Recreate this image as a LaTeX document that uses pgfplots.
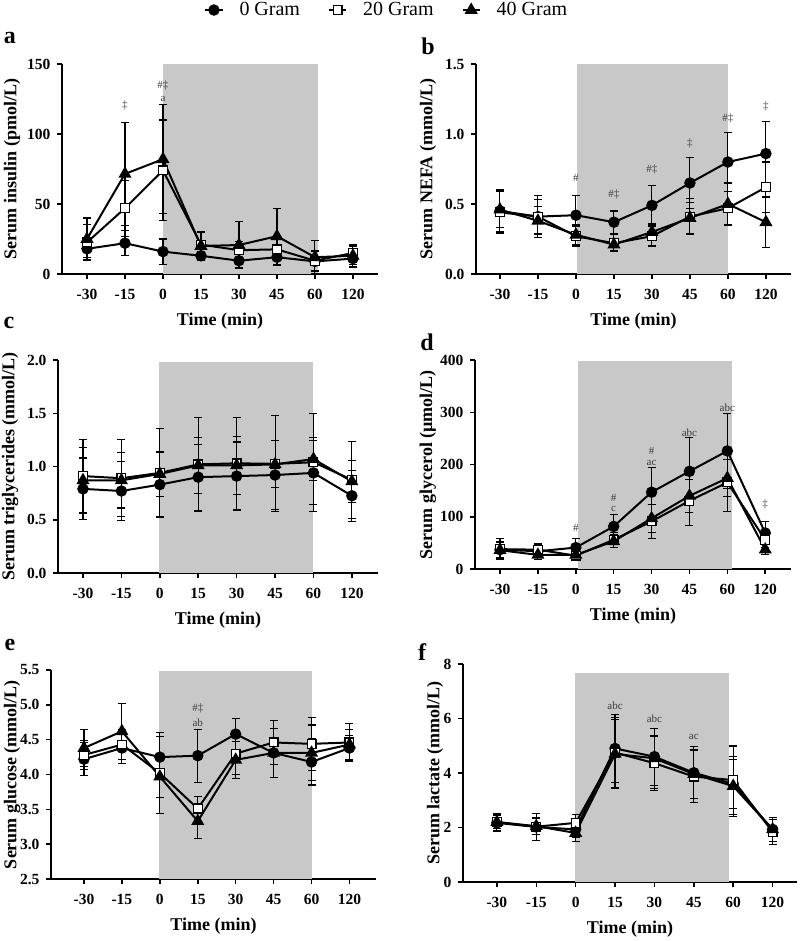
\documentclass[border=0pt]{standalone}
\usepackage{fontspec}
\setmainfont{Liberation Serif}
\usepackage{pgfplots}
\pgfplotsset{compat=1.18}
\definecolor{shade}{RGB}{200,200,200}
\definecolor{annot}{RGB}{60,60,60}
\pgfplotsset{
  panel/.style={
    scale only axis,
    anchor=south west,
    axis lines*=left,
    axis line style={line width=1.7pt, black},
    xtick={0,1,2,3,4,5,6,7},
    xticklabels={-30,-15,0,15,30,45,60,120},
    tick style={line width=1.5pt, black},
    major tick length=5pt,
    tick align=outside,
    tick label style={font=\fontsize{15.5}{18}\selectfont\bfseries},
    xticklabel style={yshift=-7pt},
    yticklabel style={xshift=-3pt},
    /pgf/number format/assume math mode=true,
    xlabel={Time (min)},
    xlabel style={font=\fontsize{18}{21}\selectfont\bfseries, at={(rel axis cs:0.5,0)}, anchor=center, yshift=-47pt},
    ylabel style={font=\fontsize{18}{21}\selectfont\bfseries, anchor=center},
    clip=false,
    ymin=0,
    error bars/y dir=both,
    error bars/y explicit,
    error bars/error bar style={line width=1.1pt, black},
    error bars/error mark options={rotate=90, mark size=4pt, line width=1.1pt, black},
  },
  sA/.style={black, line width=2pt, mark=*, mark size=4.7pt, mark options={solid, fill=black}},
  sB/.style={black, line width=2pt, mark=square*, mark size=4.4pt, mark options={solid, fill=white, line width=1.2pt}},
  sC/.style={black, line width=2pt, mark=triangle*, mark size=5.6pt, mark options={solid, fill=black}},
  shd/.style={fill=shade, draw=none, forget plot, mark=none, error bars/y dir=none},
}
\newcommand{\ann}[3]{\node[font=\fontsize{11}{12}\selectfont, text=annot, inner sep=0pt] at (axis cs:#1,#2) {#3};}
\begin{document}
\begin{tikzpicture}
\path[use as bounding box] (0pt,0pt) rectangle (800pt,-941pt);

% ---------------- a ----------------
\begin{axis}[panel, at={(62pt,-274pt)}, width=316pt, height=210pt,
  xmin=-0.658, xmax=7.66, ymax=150, ytick={0,50,100,150},
  ylabel={Serum insulin (pmol/L)}, ylabel style={at={(axis description cs:-0.158,0.5)}},
  legend columns=3,
  legend style={at={(1.028,1.257)}, anchor=center, draw=none, fill=none,
    font=\fontsize{20}{24}\selectfont,
    /tikz/every odd column/.append style={column sep=14pt},
    /tikz/every even column/.append style={column sep=26pt}},
  legend cell align=left]
\addplot[shd] coordinates {(2,0) (6.08,0) (6.08,150) (2,150)} -- cycle;
\addplot[sA] coordinates {(0,18)+-(0,6) (1,22)+-(0,9) (2,16)+-(0,9) (3,13)+-(0,3) (4,9.5)+-(0,5) (5,12)+-(0,6) (6,9)+-(0,7) (7,11)+-(0,4)};
\addplot[sB] coordinates {(0,22.6)+-(0,13) (1,47)+-(0,20) (2,74)+-(0,36) (3,21)+-(0,9) (4,17)+-(0,6) (5,17.6)+-(0,8) (6,9.5)+-(0,7) (7,15)+-(0,5)};
\addplot[sC] coordinates {(0,25)+-(0,15) (1,71.5)+-(0,37) (2,82)+-(0,39) (3,20)+-(0,10) (4,20.7)+-(0,17) (5,27)+-(0,20) (6,12)+-(0,12) (7,13)+-(0,8)};
\legend{0 Gram, 20 Gram, 40 Gram}
\ann{1}{120.7}{‡}
\ann{2}{135}{\#‡}
\ann{2}{125}{a}
\end{axis}
\node[font=\fontsize{24}{28}\selectfont\bfseries] at (10pt,-38pt) {a};

% ---------------- b ----------------
\begin{axis}[panel, at={(476pt,-274pt)}, width=315pt, height=210pt,
  xmin=-0.63, xmax=7.66, ymax=1.5, ytick={0,0.5,1,1.5},
  yticklabel style={/pgf/number format/.cd, fixed, fixed zerofill, precision=1},
  ylabel={Serum NEFA (mmol/L)}, ylabel style={at={(axis description cs:-0.152,0.5)}}]
\addplot[shd] coordinates {(2.02,0) (6.0,0) (6.0,1.5) (2.02,1.5)} -- cycle;
\addplot[sA] coordinates {(0,0.45)+-(0,0.15) (1,0.41)+-(0,0.15) (2,0.42)+-(0,0.14) (3,0.37)+-(0,0.08) (4,0.49)+-(0,0.14) (5,0.65)+-(0,0.18) (6,0.80)+-(0,0.21) (7,0.86)+-(0,0.23)};
\addplot[sB] coordinates {(0,0.44)+-(0,0.15) (1,0.41)+-(0,0.12) (2,0.27)+-(0,0.07) (3,0.22)+-(0,0.06) (4,0.27)+-(0,0.07) (5,0.41)+-(0,0.13) (6,0.47)+-(0,0.12) (7,0.62)+-(0,0.18)};
\addplot[sC] coordinates {(0,0.46)+-(0,0.13) (1,0.38)+-(0,0.10) (2,0.28)+-(0,0.07) (3,0.21)+-(0,0.04) (4,0.30)+-(0,0.06) (5,0.40)+-(0,0.11) (6,0.50)+-(0,0.15) (7,0.37)+-(0,0.18)};
\ann{2}{0.69}{\#}
\ann{3}{0.57}{\#‡}
\ann{4}{0.75}{\#‡}
\ann{5}{0.93}{‡}
\ann{6}{1.11}{\#‡}
\ann{7}{1.20}{‡}
\end{axis}
\node[font=\fontsize{24}{28}\selectfont\bfseries] at (428pt,-46pt) {b};

% ---------------- c ----------------
\begin{axis}[panel, at={(58pt,-573pt)}, width=320pt, height=213pt,
  xmin=-0.65, xmax=7.68, ymax=2, ytick={0,0.5,1,1.5,2},
  yticklabel style={/pgf/number format/.cd, fixed, fixed zerofill, precision=1},
  ylabel={Serum triglycerides (mmol/L)}, ylabel style={at={(axis description cs:-0.15,0.5)}}]
\addplot[shd] coordinates {(1.98,0) (6.0,0) (6.0,1.98) (1.98,1.98)} -- cycle;
\addplot[sA] coordinates {(0,0.79)+-(0,0.29) (1,0.77)+-(0,0.28) (2,0.83)+-(0,0.30) (3,0.90)+-(0,0.31) (4,0.91)+-(0,0.32) (5,0.92)+-(0,0.32) (6,0.94)+-(0,0.30) (7,0.725)+-(0,0.24)};
\addplot[sB] coordinates {(0,0.91)+-(0,0.34) (1,0.89)+-(0,0.36) (2,0.94)+-(0,0.42) (3,1.02)+-(0,0.44) (4,1.03)+-(0,0.43) (5,1.025)+-(0,0.45) (6,1.04)+-(0,0.46) (7,0.875)+-(0,0.36)};
\addplot[sC] coordinates {(0,0.87)+-(0,0.31) (1,0.87)+-(0,0.26) (2,0.93)+-(0,0.21) (3,1.01)+-(0,0.26) (4,1.01)+-(0,0.27) (5,1.02)+-(0,0.22) (6,1.07)+-(0,0.20) (7,0.86)+-(0,0.20)};
\end{axis}
\node[font=\fontsize{24}{28}\selectfont\bfseries] at (9pt,-323pt) {c};

% ---------------- d ----------------
\begin{axis}[panel, at={(475pt,-569pt)}, width=316pt, height=209pt,
  xmin=-0.66, xmax=7.68, ymax=400, ytick={0,100,200,300,400},
  ylabel={Serum glycerol (µmol/L)}, ylabel style={at={(axis description cs:-0.149,0.5)}}]
\addplot[shd] coordinates {(2.05,0) (6.13,0) (6.13,398) (2.05,398)} -- cycle;
\addplot[sA] coordinates {(0,37)+-(0,15) (1,34)+-(0,12) (2,41)+-(0,18) (3,81.5)+-(0,22) (4,147)+-(0,47) (5,187)+-(0,64) (6,226)+-(0,72) (7,69)+-(0,22)};
\addplot[sB] coordinates {(0,38)+-(0,20) (1,37)+-(0,12) (2,25.5)+-(0,5) (3,56)+-(0,14) (4,91)+-(0,33) (5,130.6)+-(0,48) (6,165.6)+-(0,55) (7,56)+-(0,15)};
\addplot[sC] coordinates {(0,36)+-(0,15) (1,27)+-(0,8) (2,27)+-(0,6) (3,53)+-(0,12) (4,97)+-(0,27) (5,140)+-(0,32) (6,174)+-(0,35) (7,37)+-(0,10)};
\ann{2}{78}{\#}
\ann{3}{137}{\#}
\ann{3}{115}{c}
\ann{4}{226}{\#}
\ann{4}{203}{ac}
\ann{5}{260}{abc}
\ann{6}{309}{abc}
\ann{7}{123}{‡}
\end{axis}
\node[font=\fontsize{24}{28}\selectfont\bfseries] at (427pt,-342pt) {d};

% ---------------- e ----------------
\begin{axis}[panel, at={(51pt,-879pt)}, width=325pt, height=209pt,
  xmin=-0.87, xmax=7.70, ymin=2.5, ymax=5.5, ytick={2.5,3,3.5,4,4.5,5,5.5},
  yticklabel style={/pgf/number format/.cd, fixed, fixed zerofill, precision=1},
  ylabel={Serum glucose (mmol/L)}, ylabel style={at={(axis description cs:-0.12,0.5)}}]
\addplot[shd] coordinates {(1.98,2.5) (6.0,2.5) (6.0,5.48) (1.98,5.48)} -- cycle;
\addplot[sA] coordinates {(0,4.22)+-(0,0.24) (1,4.38)+-(0,0.22) (2,4.25)+-(0,0.30) (3,4.27)+-(0,0.38) (4,4.58)+-(0,0.23) (5,4.31)+-(0,0.35) (6,4.18)+-(0,0.33) (7,4.38)+-(0,0.18)};
\addplot[sB] coordinates {(0,4.28)+-(0,0.21) (1,4.43)+-(0,0.21) (2,4.02)+-(0,0.58) (3,3.51)+-(0,0.18) (4,4.30)+-(0,0.30) (5,4.46)+-(0,0.32) (6,4.44)+-(0,0.38) (7,4.46)+-(0,0.27)};
\addplot[sC] coordinates {(0,4.38)+-(0,0.26) (1,4.62)+-(0,0.40) (2,3.97)+-(0,0.30) (3,3.33)+-(0,0.25) (4,4.21)+-(0,0.27) (5,4.31)+-(0,0.35) (6,4.31)+-(0,0.40) (7,4.43)+-(0,0.22)};
\ann{3}{4.95}{\#‡}
\ann{3}{4.74}{ab}
\end{axis}
\node[font=\fontsize{24}{28}\selectfont\bfseries] at (10pt,-645pt) {e};

% ---------------- f ----------------
\begin{axis}[panel, at={(463pt,-882pt)}, width=334pt, height=218pt,
  xmin=-0.86, xmax=7.62, ymax=8, ytick={0,2,4,6,8},
  ylabel={Serum lactate (mmol/L)}, ylabel style={at={(axis description cs:-0.084,0.5)}}]
\addplot[shd] coordinates {(1.98,0) (5.9,0) (5.9,7.67) (1.98,7.67)} -- cycle;
\addplot[sA] coordinates {(0,2.17)+-(0,0.3) (1,2.02)+-(0,0.5) (2,1.93)+-(0,0.3) (3,4.9)+-(0,1.25) (4,4.6)+-(0,1.05) (5,4.01)+-(0,0.95) (6,3.6)+-(0,0.9) (7,1.93)+-(0,0.45)};
\addplot[sB] coordinates {(0,2.2)+-(0,0.3) (1,2.03)+-(0,0.3) (2,2.17)+-(0,0.3) (3,4.75)+-(0,1.3) (4,4.36)+-(0,1.0) (5,3.87)+-(0,0.95) (6,3.74)+-(0,1.25) (7,1.84)+-(0,0.45)};
\addplot[sC] coordinates {(0,2.2)+-(0,0.25) (1,2.05)+-(0,0.3) (2,1.8)+-(0,0.3) (3,4.7)+-(0,1.25) (4,4.54)+-(0,1.1) (5,3.96)+-(0,0.9) (6,3.52)+-(0,1.1) (7,1.93)+-(0,0.45)};
\ann{3}{6.47}{abc}
\ann{4}{5.98}{abc}
\ann{5}{5.34}{ac}
\end{axis}
\node[font=\fontsize{24}{28}\selectfont\bfseries] at (422pt,-652pt) {f};
\end{tikzpicture}
\end{document}
